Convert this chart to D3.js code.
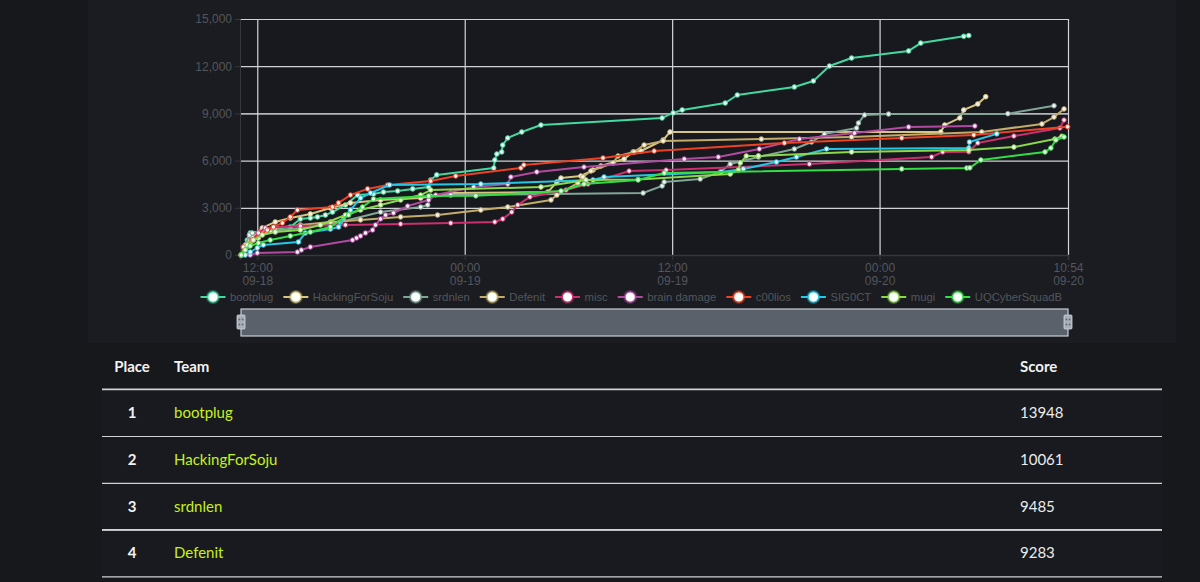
<!DOCTYPE html>
<html><head><meta charset="utf-8">
<script src="https://cdn.jsdelivr.net/npm/d3@7"></script>
<style>
html,body{margin:0;padding:0;background:#16181c;width:1200px;height:582px;overflow:hidden;}
svg{display:block;}
</style></head><body>
<svg id="c" width="1200" height="582"></svg>
<script>
// ---------- DATA ----------
const teams = ["bootplug","HackingForSoju","srdnlen","Defenit","misc","brain damage","c00lios","SIG0CT","mugi","UQCyberSquadB"];
const teamColors = ["#43d9a0","#d8c680","#82a596","#c4ad6a","#cc2f6f","#b24aa0","#ee4223","#27c6e6","#8ad84c","#33dd44"];

// [hours since 2024-09-18 00:00, score]
const bootplug = [[11.07,0],[11.25,440],[11.42,950],[11.59,1400],[12.46,1590],[13.91,1780],[14.49,2290],[15.07,2350],[15.48,2420],[15.94,2540],[16.35,2730],[17.10,3180],[17.80,3810],[18.72,3880],[19.30,4000],[20.12,4070],[20.99,4200],[21.91,4320],[22.03,4770],[22.38,5090],[25.68,5530],[25.74,6040],[25.86,6420],[26.14,6550],[26.20,6990],[26.49,7440],[27.30,7820],[28.41,8260],[35.42,8710],[36.06,9030],[36.58,9220],[39.07,9660],[39.77,10170],[43.07,10680],[44.17,11060],[45.10,12010],[46.38,12520],[49.68,12970],[50.38,13470],[52.87,13900],[53.16,13948]];
const hackingForSoju = [[11.07,0],[11.36,640],[11.71,1080],[12.29,1720],[13.04,2100],[13.91,2350],[15.07,2610],[16.23,2990],[17.39,3310],[19.13,3500],[21.45,3620],[23.19,3940],[28.81,4000],[29.33,4640],[29.57,4890],[30.72,5020],[31.42,5400],[31.88,5660],[33.22,6100],[33.74,6550],[34.20,6610],[35.48,7310],[35.88,7820],[51.54,7820],[51.77,8260],[52.64,8710],[52.87,9220],[53.68,9600],[54.14,10061]];
const srdnlen = [[11.07,0],[11.30,640],[11.54,1270],[11.71,1400],[12.75,1530],[14.49,1720],[16.81,2100],[19.13,2730],[21.45,3050],[21.86,3180],[22.03,3750],[23.19,3810],[34.32,3940],[35.42,4390],[35.54,4640],[37.62,4830],[38.78,5280],[39.36,5780],[40.99,6230],[43.07,6740],[44.06,7180],[44.81,7690],[46.67,8070],[46.78,8390],[47.13,8900],[48.52,8960],[55.42,8980],[58.09,9485]];
const defenit = [[11.07,0],[11.30,320],[11.59,760],[12.06,1080],[12.46,1460],[13.04,1720],[14.49,1910],[16.23,2100],[17.97,2230],[20.29,2420],[22.43,2540],[24.93,2860],[26.49,3050],[28.99,3500],[29.33,3810],[30.55,4580],[30.84,4960],[31.30,5340],[32.58,5850],[32.87,6290],[33.80,6550],[34.38,6990],[35.48,7250],[41.16,7370],[46.38,7500],[53.91,7820],[57.39,8330],[58.09,8770],[58.67,9283]];
const misc = [[11.07,0],[11.36,450],[11.71,950],[12.06,1400],[12.46,1720],[14.49,1840],[17.10,1910],[20.29,1970],[23.19,2030],[25.74,2100],[26.20,2290],[26.72,2730],[27.07,3180],[27.77,3690],[29.86,4130],[31.13,4510],[33.51,5340],[35.65,5400],[43.94,5780],[51.01,6230],[51.65,6550],[53.16,6560],[53.68,7120],[55.77,7560],[58.43,8070],[58.67,8580]];
const brainDamage = [[11.59,0],[12.00,130],[14.32,190],[14.55,320],[15.07,510],[17.51,950],[17.74,1080],[17.97,1210],[18.26,1400],[18.67,1590],[18.84,1910],[19.13,2290],[19.42,2540],[19.88,2670],[20.70,3110],[21.91,3500],[22.32,3810],[24.52,4320],[26.49,4510],[26.67,4960],[28.17,5280],[30.90,5590],[36.70,6100],[38.67,6230],[41.04,6740],[43.36,7370],[46.55,7750],[49.68,8140],[53.51,8200]];
const c00lios = [[11.07,0],[11.19,510],[11.77,950],[12.58,1590],[12.93,1780],[13.45,2030],[13.91,2420],[14.32,2860],[16.35,3050],[16.70,3310],[17.39,3810],[18.38,4200],[19.54,4450],[22.03,4700],[23.48,5020],[27.25,5530],[27.42,5720],[32.00,6170],[34.96,6610],[42.49,7120],[49.28,7440],[53.45,7630],[58.88,8150]];
const sig0ct = [[11.30,0],[11.59,190],[12.00,450],[12.35,640],[14.38,830],[14.78,1400],[16.23,1650],[16.70,1780],[16.99,2350],[17.39,2860],[17.97,3620],[18.55,3940],[19.65,4450],[24.93,4510],[31.42,4770],[32.06,4960],[38.84,5280],[40.12,5470],[42.03,5910],[43.19,6230],[44.93,6740],[53.16,6800],[53.20,7180],[54.78,7700]];
const mugi = [[11.07,0],[11.42,640],[11.77,950],[12.29,1270],[13.04,1460],[14.49,1590],[15.65,1910],[17.10,2540],[17.97,2860],[19.13,3180],[20.29,3500],[21.45,3810],[22.03,4130],[28.41,4320],[31.01,4770],[34.03,4800],[39.36,5150],[39.83,5400],[39.94,5850],[40.29,6290],[40.99,6300],[46.38,6550],[53.16,6670],[55.77,6860],[58.14,7370],[58.55,7550]];
const uqCyberSquadB = [[11.07,0],[11.30,320],[11.59,570],[12.06,760],[12.75,950],[13.91,1210],[15.07,1460],[16.23,1780],[17.28,2540],[18.09,3050],[18.72,3560],[21.91,3750],[24.64,3760],[29.57,4070],[30.90,4510],[34.03,4770],[35.54,5210],[49.28,5470],[53.04,5530],[53.22,5540],[53.86,6040],[57.57,6550],[57.91,6800],[58.20,7310],[58.67,7500]];
const seriesValues = [bootplug,hackingForSoju,srdnlen,defenit,misc,brainDamage,c00lios,sig0ct,mugi,uqCyberSquadB];

const yTickValues = [0,3000,6000,9000,12000,15000];
const xTickStrings = ["2024-09-18T12:00","2024-09-19T00:00","2024-09-19T12:00","2024-09-20T00:00","2024-09-20T10:54"];
const xDomainStrings = ["2024-09-18T11:00","2024-09-20T10:54"];

const tableHeaders = ["Place","Team","Score"];
const tablePlaces = [1,2,3,4];
const tableTeams = ["bootplug","HackingForSoju","srdnlen","Defenit"];
const tableScores = [13948,10061,9485,9283];

// ---------- DRAW ----------
const base = new Date(2024,8,18,0,0).getTime();
const toDate = h => new Date(base + h*3600000);
const svg = d3.select("#c");
const FONT = "'Liberation Sans', Arial, Helvetica, sans-serif";

// panel
svg.append("rect").attr("x",88).attr("y",0).attr("width",1088).attr("height",343).attr("fill","#1a1c21");

const x = d3.scaleTime().domain(xDomainStrings.map(s=>new Date(s))).range([240,1068]);
const y = d3.scaleLinear().domain([0,15000]).range([255,19]);
const [x0,x1] = x.range();

// plot bg
svg.append("rect").attr("x",x0).attr("y",y(15000)).attr("width",x1-x0).attr("height",y(0)-y(15000)).attr("fill","#17191e");

// horizontal grid
const gy = svg.append("g").attr("transform",`translate(${x0},0)`)
  .call(d3.axisLeft(y).tickValues(yTickValues.filter(v=>v>0)).tickSize(-(x1-x0)).tickFormat(""));
gy.select(".domain").remove();
gy.selectAll("line").attr("stroke",d=>d===9000?"#b4b6b9":"#cfd1d4").attr("stroke-width",d=>d===9000?1.8:1.2);

// vertical grid
const xTicks = xTickStrings.map(s=>new Date(s));
const gx = svg.append("g").attr("transform",`translate(0,${y(0)})`)
  .call(d3.axisBottom(x).tickValues(xTicks).tickSize(-(y(0)-y(15000))).tickFormat(""));
gx.select(".domain").remove();
gx.selectAll("line").attr("stroke","#d4d6d9").attr("stroke-width",1.2);

// y axis
const ya = svg.append("g").attr("transform",`translate(${x0},0)`)
  .call(d3.axisLeft(y).tickValues(yTickValues).tickSize(5).tickPadding(3).tickFormat(d3.format(",")));
ya.select(".domain").attr("stroke","#34373c");
ya.selectAll("line").attr("stroke","#34373c");
ya.selectAll("text").attr("fill","#53565c").attr("font-family",FONT).attr("font-size",12);

// x axis
const fT = d3.timeFormat("%H:%M"), fD = d3.timeFormat("%m-%d");
const xa = svg.append("g").attr("transform",`translate(0,${y(0)})`)
  .call(d3.axisBottom(x).tickValues(xTicks).tickSize(5).tickFormat(""));
xa.select(".domain").attr("stroke","#34373c").attr("stroke-width",1.5);
xa.selectAll("line").attr("stroke","#34373c");
xa.selectAll(".tick").each(function(d){
  const t = d3.select(this).append("text").attr("fill","#53565c").attr("font-family",FONT).attr("font-size",12).attr("text-anchor","middle");
  t.append("tspan").attr("x",0).attr("y",17).text(fT(d));
  t.append("tspan").attr("x",0).attr("y",30).text(fD(d));
});

// series
const line = d3.line().x(d=>x(toDate(d[0]))).y(d=>y(d[1]));
seriesValues.forEach((vals,i)=>{
  const g = svg.append("g");
  g.append("path").attr("d",line(vals)).attr("fill","none").attr("stroke",teamColors[i]).attr("stroke-width",2).attr("stroke-linejoin","round");
  g.selectAll("circle").data(vals).join("circle")
    .attr("cx",d=>x(toDate(d[0]))).attr("cy",d=>y(d[1])).attr("r",2.3)
    .attr("fill","#f2f2f2").attr("stroke",teamColors[i]).attr("stroke-width",1);
});

// legend: spans from left start to right end as in the reference layout
const legendLeft = 200.5, legendRight = 1062;
const lg = svg.append("g").attr("transform",`translate(0,297)`);
const itemGs = [], widths = [];
teams.forEach((t,i)=>{
  const it = lg.append("g");
  it.append("line").attr("x1",0).attr("x2",25).attr("y1",0).attr("y2",0).attr("stroke",teamColors[i]).attr("stroke-width",2);
  it.append("circle").attr("cx",12.5).attr("cy",0).attr("r",7).attr("fill",teamColors[i]).attr("opacity",0.35);
  it.append("circle").attr("cx",12.5).attr("cy",0).attr("r",5.2).attr("fill","#fbfffc").attr("stroke",teamColors[i]).attr("stroke-width",1.2);
  const tx = it.append("text").attr("x",29.5).attr("y",4.2).attr("fill","#53565c").attr("font-family",FONT).attr("font-size",11.3).text(t);
  itemGs.push(it); widths.push(29.5 + tx.node().getComputedTextLength());
});
const gap = (legendRight - legendLeft - d3.sum(widths)) / (teams.length - 1);
let lx = legendLeft;
itemGs.forEach((it,i)=>{ it.attr("transform",`translate(${lx},0)`); lx += widths[i] + gap; });

// slider (data zoom)
const sl = svg.append("g");
sl.append("rect").attr("x",x0+1).attr("y",309).attr("width",x1-x0-1).attr("height",27)
  .attr("fill","#5a616b").attr("stroke","#c9ced6").attr("stroke-width",1.2);
[x0+1, x1].forEach(hx=>{
  sl.append("rect").attr("x",hx-4).attr("y",315).attr("width",8).attr("height",14).attr("rx",1)
    .attr("fill","#a7afba").attr("stroke","#cfd4db").attr("stroke-width",0.8);
  [[-1.6,319.5],[1.6,319.5],[-1.6,324.5],[1.6,324.5]].forEach(p=>{
    sl.append("rect").attr("x",hx+p[0]-0.8).attr("y",p[1]-0.8).attr("width",1.6).attr("height",1.6).attr("fill","#5a616b");
  });
});

// table
const TF = "Lato, 'Open Sans', sans-serif";
const tb = svg.append("g");
const colX = [132,174,1020];
tableHeaders.forEach((h,i)=>{
  tb.append("text").attr("x",colX[i]).attr("y",372).attr("text-anchor",i===0?"middle":"start")
    .attr("fill","#f2f2f2").attr("font-family",TF).attr("font-weight",700).attr("font-size",15).text(h);
});
tb.append("line").attr("x1",102).attr("x2",1162).attr("y1",389.5).attr("y2",389.5).attr("stroke","#d0d2d5").attr("stroke-width",2);
tablePlaces.forEach((p,i)=>{
  const cy = 413 + i*46.8;
  tb.append("rect").attr("x",102).attr("y",cy-22.5).attr("width",1060).attr("height",45).attr("fill","#181a1f");
  tb.append("text").attr("x",colX[0]).attr("y",cy+5).attr("text-anchor","middle").attr("fill","#f2f2f2")
    .attr("font-family",TF).attr("font-weight",700).attr("font-size",15).text(p);
  tb.append("text").attr("x",colX[1]).attr("y",cy+5).attr("fill","#c6f01e")
    .attr("font-family",TF).attr("font-size",15).text(tableTeams[i]);
  tb.append("text").attr("x",colX[2]).attr("y",cy+5).attr("fill","#ebebeb")
    .attr("font-family",TF).attr("font-size",15).text(tableScores[i]);
  tb.append("line").attr("x1",102).attr("x2",1162).attr("y1",cy+23.5).attr("y2",cy+23.5).attr("stroke","#d0d2d5").attr("stroke-width",i===2?2:1.2);
});
</script>
</body></html>
